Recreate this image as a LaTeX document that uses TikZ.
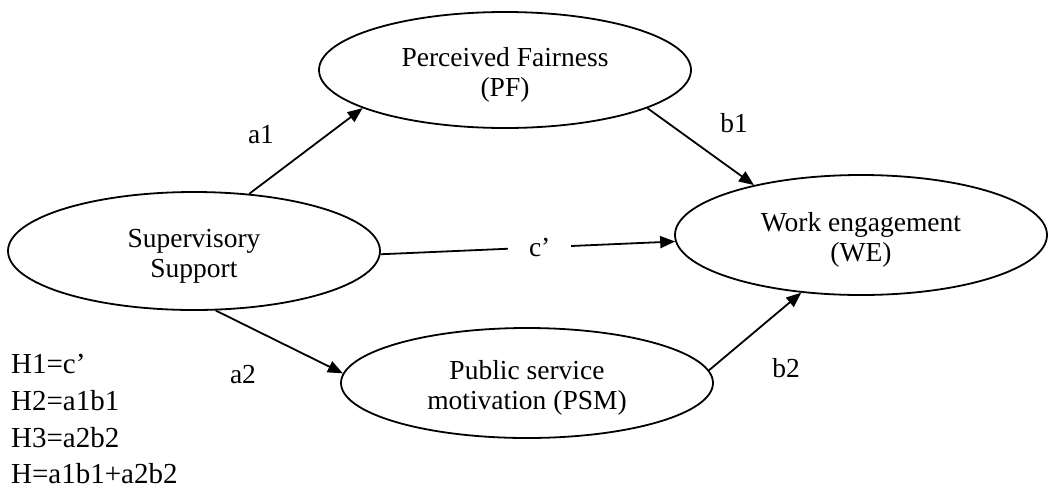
\documentclass[tikz,border=0pt]{standalone}
\usepackage{fontspec}
\setmainfont{Liberation Serif}
\usetikzlibrary{shapes.geometric,arrows.meta}
\newcommand{\topstrut}{\rule{0pt}{28.5pt}}
\tikzset{
  construct/.style={draw, ellipse, line width=1.8pt, inner sep=0pt, align=center,
    font=\fontsize{27.5}{30}\selectfont, minimum width=372pt},
  arr/.style={line width=1.8pt, -{Triangle[length=15pt,width=12pt]}},
  lbl/.style={font=\fontsize{27.5}{31}\selectfont, anchor=base, inner sep=0pt},
  hyp/.style={font=\fontsize{29}{37}\selectfont, anchor=base west, inner sep=0pt}
}
\begin{document}
\begin{tikzpicture}[x=1pt,y=-1pt]
\useasboundingbox (0,0) rectangle (1048,488);
\node[construct, minimum height=116pt] (pf) at (505,70) {\topstrut Perceived Fairness\\(PF)};
\node[construct, minimum height=118pt] (sup) at (194,251) {\topstrut Supervisory\\Support};
\node[construct, minimum height=120pt] (we) at (861,235) {\topstrut Work engagement\\(WE)};
\node[construct, minimum height=110pt] (psm) at (527,383) {\topstrut Public service\\motivation (PSM)};

\draw[arr] (sup.46) -- (pf.195);
\draw[arr] (pf.345) -- (we.155);
\draw[arr] (sup.359) -- node[pos=0.54, fill=white, inner xsep=21pt, inner ysep=4pt, font=\fontsize{27.5}{31}\selectfont] (cl) {c'} (we.182);
\draw[arr] (sup.290) -- (psm.177);
\draw[arr] (psm.4) -- (we.224);

\node[lbl] (la1) at (261,143) {a1};
\node[lbl] (lb1) at (734,132) {b1};
\node[lbl] (la2) at (243,383) {a2};
\node[lbl] (lb2) at (786,377) {b2};

\node[hyp] (h1) at (11,373) {H1=c'};
\node[hyp] (h2) at (11,410) {H2=a1b1};
\node[hyp] (h3) at (11,447) {H3=a2b2};
\node[hyp] (h4) at (11,483) {H=a1b1+a2b2};
\end{tikzpicture}
\end{document}
